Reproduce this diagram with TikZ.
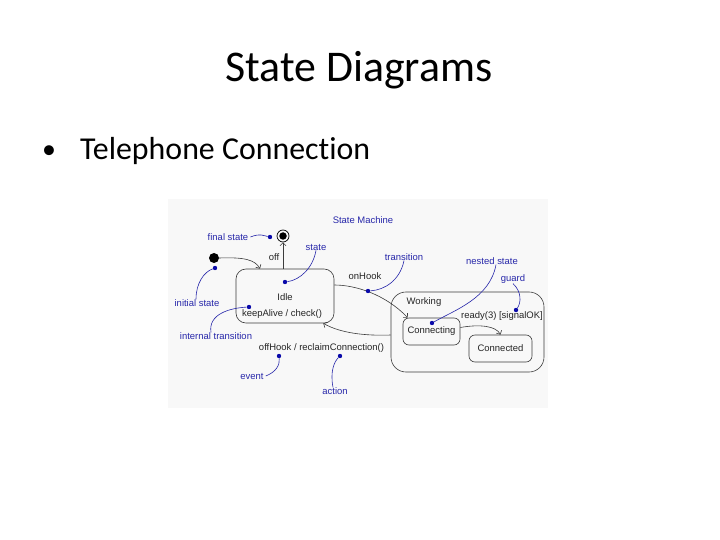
\documentclass[tikz,border=0pt]{standalone}
\usepackage{fontspec}
\setmainfont[Ligatures=NoCommon]{Carlito}
\newfontfamily\diag{Liberation Sans}
\usetikzlibrary{arrows.meta}
\definecolor{annot}{RGB}{40,40,170}
\definecolor{dotc}{RGB}{10,10,170}
\definecolor{ln}{RGB}{60,60,60}
\definecolor{bgc}{RGB}{248,248,248}
\begin{document}
\begin{tikzpicture}[x=1bp,y=-1bp,
  lbl/.style={font=\diag\fontsize{9.5}{11}\selectfont, text=black!85, inner sep=0},
  ann/.style={font=\diag\fontsize{9.5}{11}\selectfont, text=annot, inner sep=0},
  stbox/.style={draw=ln, line width=0.6bp, rounded corners=#1, inner sep=0,
    font=\diag\fontsize{9.5}{11}\selectfont, text=black!85},
  bdot/.style={circle, fill=dotc, inner sep=0, minimum size=4.4bp},
  tr/.style={draw=ln, line width=0.6bp, -{Straight Barb[length=3bp,width=6bp]}},
  al/.style={draw=annot, line width=0.6bp}]
\useasboundingbox (0,0) rectangle (720,540);
\fill[white] (0,0) rectangle (720,540);
\fill[bgc] (168,199) rectangle (548,408);
% title and bullet
\node[font=\fontsize{44}{53}\selectfont, anchor=base, inner sep=0] (title) at (359,82) {State Diagrams};
\node[font=\fontsize{28}{34}\selectfont, anchor=base, inner sep=0] (bul) at (49,159) {•};
\node[font=\fontsize{32}{38}\selectfont, anchor=base west, inner sep=0] (tc) at (80,160) {Telephone Connection};
% states
\node[stbox=10, minimum width=98bp, minimum height=54bp] (idle) at (285,296) {};
\node[lbl] (idleT) at (285,297) {Idle};
\node[lbl] (keep) at (282,314) {keepAlive / check()};
\node[stbox=15, minimum width=153bp, minimum height=80bp] (work) at (467.5,332) {};
\node[lbl] (workT) at (424,302) {Working};
\node[stbox=6, minimum width=57bp, minimum height=27bp] (conn) at (431.5,331.5) {Connecting};
\node[stbox=6, minimum width=63bp, minimum height=27bp] (cted) at (500.5,348.5) {Connected};
\node[circle, fill=black, minimum size=10bp, inner sep=0] (init) at (214,258) {};
\node[circle, draw=black, line width=0.7bp, minimum size=12bp, inner sep=0] (fin) at (283,236) {};
\node[circle, fill=black, minimum size=7.5bp, inner sep=0] (finin) at (283,236) {};
% transition labels
\node[lbl] (offL) at (274,257) {off};
\node[lbl] (onL) at (365,276) {onHook};
\node[lbl] (readyL) at (502,316) {ready(3) [signalOK]};
\node[lbl] (offhL) at (321.5,348) {offHook / reclaimConnection()};
% transitions
\draw[tr] (init.east) .. controls (245,257) and (255,260) .. ([xshift=-25bp]idle.north);
\draw[tr] (idle.north -| fin.south) -- (fin.south);
\draw[tr] ([yshift=11bp]idle.east) .. controls (355,285) and (385,294) .. ([xshift=5bp]conn.north west);
\draw[tr] ([yshift=4bp]conn.east) .. controls (480,324) and (496,326) .. (cted.north);
\draw[tr] ([yshift=-3bp]work.west) .. controls (365,336) and (340,333) .. ([xshift=-11bp]idle.south east);
% annotations
\node[ann] (smL) at (363,220) {State Machine};
\node[ann] (fsL) at (228,237) {final state};
\node[bdot] (fsD) at (270,237) {};
\draw[al] ([xshift=2bp]fsL.east) .. controls (260,233) and (265,236) .. (fsD);
\node[ann] (stL) at (316,247) {state};
\node[bdot] (stD) at (285,282) {};
\draw[al] (stL.south) .. controls (313,268) and (300,280) .. (stD);
\node[ann] (isL) at (197,303) {initial state};
\node[bdot] (isD) at (215,268) {};
\draw[al] ([xshift=-1bp]isL.north) .. controls (196,283) and (204,272) .. (isD);
\node[ann] (itL) at (216,336) {internal transition};
\node[bdot] (itD) at (249,307) {};
\draw[al] ([xshift=-5bp]itL.north) .. controls (208,314) and (230,308) .. (itD);
\node[ann] (trL) at (404,257) {transition};
\node[bdot] (trD) at (368,291) {};
\draw[al] (trL.south) .. controls (400,280) and (385,290) .. (trD);
\node[ann] (nsL) at (492,261) {nested state};
\node[bdot] (nsD) at (432,323) {};
\draw[al] ([xshift=4bp]nsL.south) .. controls (490,298) and (455,310) .. (nsD);
\node[ann] (gL) at (513,279) {guard};
\node[bdot] (gD) at (516,310) {};
\draw[al] (gL.south) .. controls (522,292) and (521,303) .. (gD);
\node[ann] (evL) at (252,376) {event};
\node[bdot] (evD) at (279,356) {};
\draw[al] ([xshift=2bp]evL.east) .. controls (276,372) and (280,365) .. (evD);
\node[ann] (acL) at (335,391) {action};
\node[bdot] (acD) at (340,356) {};
\draw[al] ([xshift=-2bp]acL.north) .. controls (330,372) and (334,362) .. (acD);
\end{tikzpicture}
\end{document}
